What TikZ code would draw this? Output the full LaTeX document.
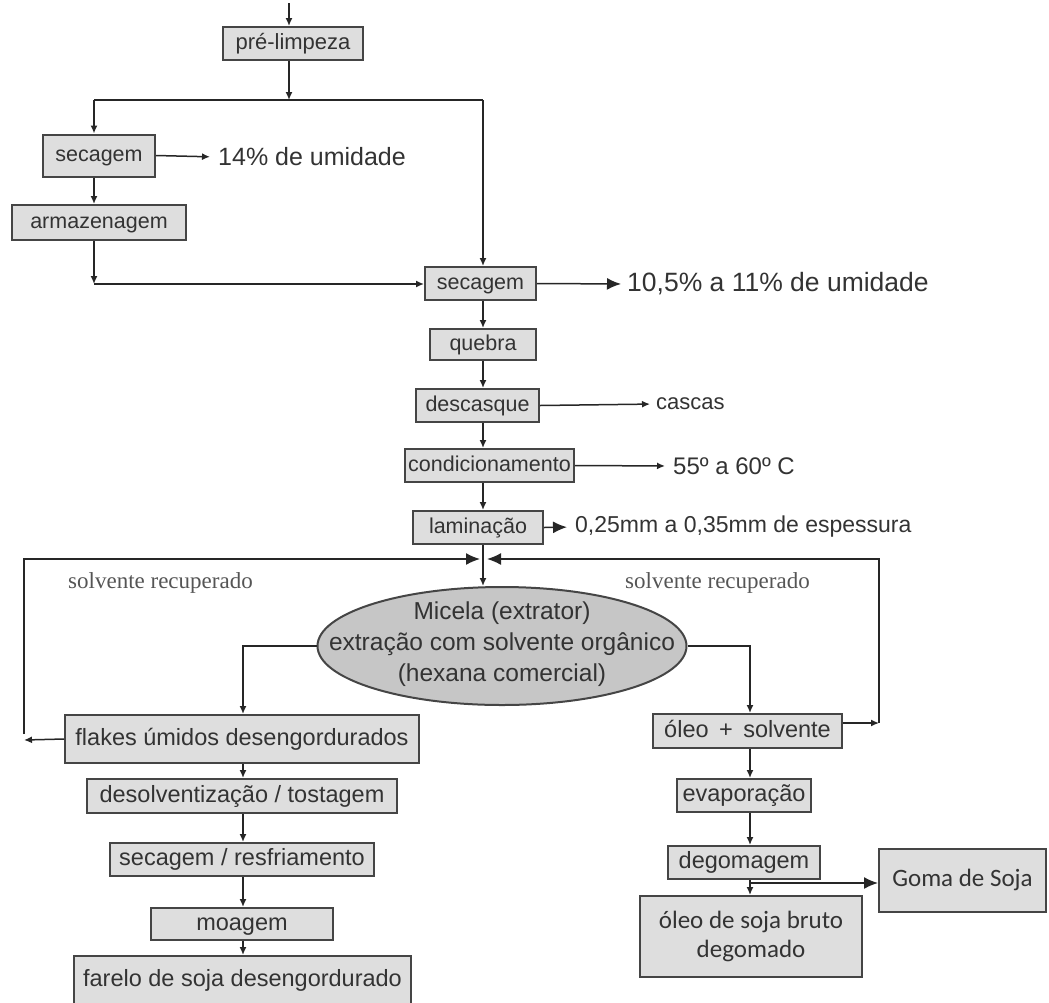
\documentclass[tikz,border=0pt]{standalone}
\usepackage{fontspec}
\setmainfont{Liberation Sans}
\newfontfamily\serifont{Liberation Serif}
\newfontfamily\calfont{Carlito}
\usetikzlibrary{arrows.meta,shapes.geometric}
\definecolor{boxfill}{HTML}{DEDEDE}
\definecolor{boxdraw}{HTML}{454545}
\definecolor{ellfill}{HTML}{C6C6C6}
\definecolor{txt}{HTML}{333333}
\definecolor{solvtxt}{HTML}{555555}
\begin{document}
\begin{tikzpicture}[x=1pt,y=-1pt,
 box/.style={draw=boxdraw, fill=boxfill, line width=2pt, inner sep=0pt, text=txt, font=\fontsize{21.5}{24}\selectfont, text height=15.5pt, text depth=4.3pt},
 bigbox/.style={box, font=\fontsize{23.5}{26}\selectfont, text height=17pt, text depth=4.8pt},
 note/.style={anchor=west, inner sep=0pt, text=txt, font=\fontsize{24}{26}\selectfont},
 solv/.style={anchor=west, inner sep=0pt, text=solvtxt, font=\serifont\fontsize{23}{25}\selectfont},
 line/.style={draw=black!85, line width=1.5pt},
 flow/.style={line, -{Latex[length=8pt,width=7pt]}},
 bigflow/.style={line, -{Latex[length=14pt,width=12pt]}},
]
\useasboundingbox (0,0) rectangle (1049,1002);

% boxes
\node[box, minimum width=140pt, minimum height=33pt, font=\fontsize{22}{24}\selectfont] (pre) at (293,43.5) {pré-limpeza};
\node[box, minimum width=112pt, minimum height=42pt] (sec1) at (99,155.5) {secagem};
\node[box, minimum width=174pt, minimum height=35pt] (arm) at (99,222.5) {armazenagem};
\node[box, minimum width=111pt, minimum height=33pt] (sec2) at (480.5,283.5) {secagem};
\node[box, minimum width=106pt, minimum height=31pt] (que) at (483,344.5) {quebra};
\node[box, minimum width=123pt, minimum height=33pt] (desc) at (477.5,405.5) {descasque};
\node[box, minimum width=169pt, minimum height=33pt] (cond) at (489.5,465.5) {condicionamento};
\node[box, minimum width=130pt, minimum height=33pt] (lam) at (478,527.5) {laminação};

\node[draw=boxdraw, fill=ellfill, line width=2pt, ellipse, inner sep=0pt,
      minimum width=369pt, minimum height=118pt] (ell) at (502,646) {};
\node[align=center, inner sep=0pt, text=txt, font=\fontsize{24.5}{31}\selectfont] (elltxt) at (502,644)
      {Micela (extrator)\\extração com solvente orgânico\\(hexana comercial)};

\node[bigbox, minimum width=354pt, minimum height=48pt] (flakes) at (242,739) {flakes úmidos desengordurados};
\node[bigbox, minimum width=310pt, minimum height=34pt] (desolv) at (242,796) {desolventização / tostagem};
\node[bigbox, minimum width=264pt, minimum height=33pt] (secres) at (242,859.5) {secagem / resfriamento};
\node[bigbox, minimum width=182pt, minimum height=32pt] (moag) at (242,924) {moagem};
\node[bigbox, minimum width=337pt, minimum height=48pt] (farelo) at (242.5,980) {farelo de soja desengordurado};

\node[bigbox, minimum width=189pt, minimum height=34pt] (oleo) at (747.5,731) {óleo \,+\, solvente};
\node[bigbox, minimum width=134pt, minimum height=33pt] (evap) at (744,795.5) {evaporação};
\node[bigbox, minimum width=152pt, minimum height=33pt] (degom) at (744,862.5) {degomagem};
\node[draw=boxdraw, fill=boxfill, line width=2pt, inner sep=0pt, text=txt,
      minimum width=222pt, minimum height=81pt, align=center,
      font=\calfont\fontsize{25}{29}\selectfont] (bruto) at (751,936.5) {óleo de soja bruto\\degomado};
\node[box, minimum width=167pt, minimum height=63pt, text height=17pt, text depth=5.4pt,
      font=\calfont\fontsize{25}{29}\selectfont] (goma) at (962.5,880.5) {Goma de Soja};

% notes
\node[note, font=\fontsize{25}{27}\selectfont] (n14) at (218,157) {14\% de umidade};
\node[note, font=\fontsize{26.5}{28}\selectfont] (n105) at (627,284) {10,5\% a 11\% de umidade};
\node[note, font=\fontsize{22}{24}\selectfont] (ncas) at (656,404) {cascas};
\node[note] (n55) at (673,466) {55º a 60º C};
\node[note, font=\fontsize{23}{25}\selectfont] (nesp) at (575,527) {0,25mm a 0,35mm de espessura};
\node[solv] (solvL) at (68,583) {solvente recuperado};
\node[solv] (solvR) at (625,583) {solvente recuperado};

% coordinates
\coordinate (top) at (289,3);
\coordinate (split) at (289,100);
\coordinate (sL) at (94,100);
\coordinate (sR) at (483,100);
\coordinate (armc) at (94,284);
\coordinate (mL) at (24,559);
\coordinate (mR) at (879,559);
\coordinate (mlTip) at (480,559);
\coordinate (mrTip) at (487,559);
\coordinate (fL) at (24,740);
\coordinate (fLtop) at (24,734);
\coordinate (oR) at (879,723);
\coordinate (fx) at (243,0);
\coordinate (ox) at (750,0);
\coordinate (gj) at (750,883);

% connectors top
\draw[flow] (top) -- (top |- pre.north);
\draw[flow] (top |- pre.south) -- (split);
\draw[line] (sL) -- (sR);
\draw[flow] (sL) -- (sL |- sec1.north);
\draw[flow] (sR) -- (sR |- sec2.north);
\draw[flow, shorten >=8pt] (sec1.east) -- (n14.west);
\draw[flow] (sL |- sec1.south) -- (sL |- arm.north);
\draw[flow] (sL |- arm.south) -- (armc);
\draw[flow] (armc) -- (armc -| sec2.west);
\draw[bigflow, shorten >=6pt] (sec2.east) -- (n105.west);
\draw[flow] (sR |- sec2.south) -- (sR |- que.north);
\draw[flow] (sR |- que.south) -- (sR |- desc.north);
\draw[flow, shorten >=6pt] (desc.east) -- (ncas.west);
\draw[flow] (sR |- desc.south) -- (sR |- cond.north);
\draw[flow, shorten >=8pt] (cond.east) -- (n55.west);
\draw[flow] (sR |- cond.south) -- (sR |- lam.north);
\draw[bigflow, shorten >=8pt] (lam.east) -- (nesp.west);
\draw[flow] (sR |- lam.south) -- (sR |- ell.north);

% recycle loops
\draw[flow] (flakes.west) -- (fL);
\draw[bigflow] (fLtop) -- (mL) -- (mlTip);
\draw[flow] (oleo.east |- oR) -- (oR);
\draw[bigflow] (oR) -- (mR) -- (mrTip);

% split from extractor
\draw[flow] (ell.west) -- (fx |- ell.west) -- (fx |- flakes.north);
\draw[flow] (ell.east) -- (ox |- ell.east) -- (ox |- oleo.north);

% left column
\draw[flow] (fx |- flakes.south) -- (fx |- desolv.north);
\draw[flow] (fx |- desolv.south) -- (fx |- secres.north);
\draw[flow] (fx |- secres.south) -- (fx |- moag.north);
\draw[flow] (fx |- moag.south) -- (fx |- farelo.north);

% right column
\draw[flow] (ox |- oleo.south) -- (ox |- evap.north);
\draw[flow] (ox |- evap.south) -- (ox |- degom.north);
\draw[flow] (ox |- degom.south) -- (ox |- bruto.north);
\draw[bigflow] (gj) -- (gj -| goma.west);
\end{tikzpicture}
\end{document}
